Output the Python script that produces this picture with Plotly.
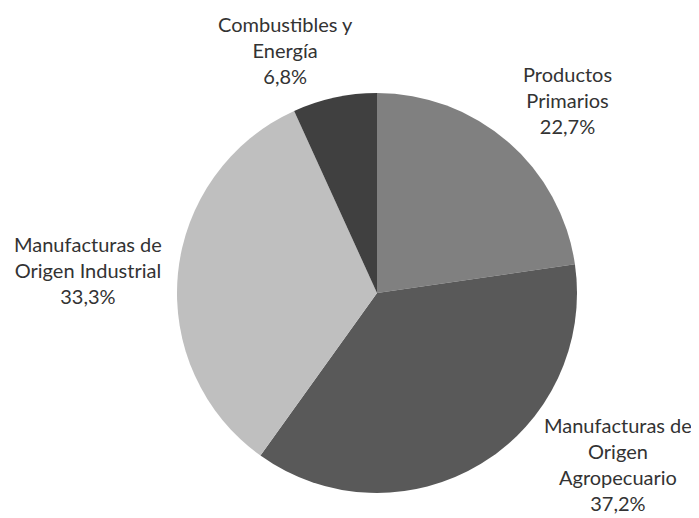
import plotly.graph_objects as go

categories = ["Productos Primarios", "Manufacturas de Origen Agropecuario",
              "Manufacturas de Origen Industrial", "Combustibles y Energía"]
values = [22.7, 37.2, 33.3, 6.8]
label_texts = ["Productos<br>Primarios<br>22,7%",
               "Manufacturas de<br>Origen<br>Agropecuario<br>37,2%",
               "Manufacturas de<br>Origen Industrial<br>33,3%",
               "Combustibles y<br>Energía<br>6,8%"]
colors = ["#808080", "#595959", "#bfbfbf", "#404040"]

OFF = 8  # page body margin
W, H = 699 - OFF, 518 - OFF
label_pos = [(567, 100), (618, 464), (88, 270), (285, 50)]

fig = go.Figure(go.Pie(
    labels=categories, values=values, sort=False, direction="clockwise",
    rotation=0, marker=dict(colors=colors, line=dict(width=0)),
    textinfo="none", hoverinfo="label+percent", showlegend=False,
    domain=dict(x=[(177 - OFF) / W, (577 - OFF) / W],
                y=[1 - (493 - OFF) / H, 1 - (93 - OFF) / H]),
))

for txt, (px, py) in zip(label_texts, label_pos):
    fig.add_annotation(x=(px - OFF) / W, y=1 - (py - OFF) / H, xref="paper", yref="paper",
                       text=txt, showarrow=False, xanchor="center", yanchor="middle",
                       font=dict(family="Lato", size=20, color="#333333"))

fig.update_layout(width=W, height=H, margin=dict(l=0, r=0, t=0, b=0),
                  paper_bgcolor="white", plot_bgcolor="white")
fig.write_html("out.html")
